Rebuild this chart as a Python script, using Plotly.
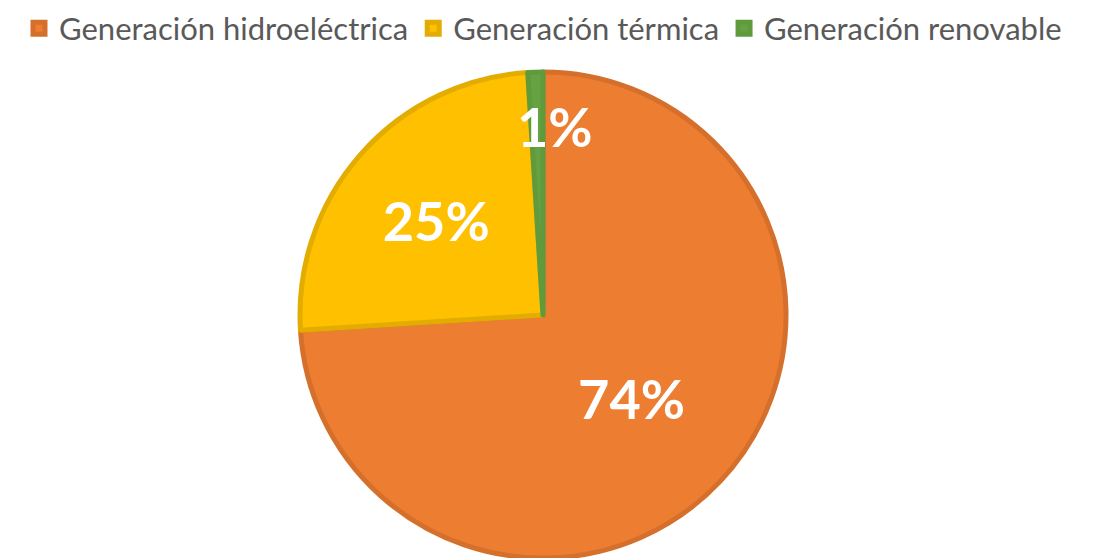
import plotly.graph_objects as go

# Participación por tipo de generación
labels = ["Generación hidroeléctrica", "Generación térmica", "Generación renovable"]
values = [74, 25, 1]
colors = ["#ED7D31", "#FFC000", "#67A242"]
border_colors = ["#D5702C", "#E3AC00", "#5F9A3C"]

total = sum(values)
pct_text = [f"{round(100 * v / total)}%" for v in values]

fig = go.Figure(
    go.Pie(
        labels=labels,
        values=values,
        sort=False,
        direction="clockwise",
        rotation=0,
        marker=dict(colors=colors, line=dict(color=border_colors, width=5)),
        text=pct_text,
        textinfo="text",
        textposition=["inside", "inside", "none"],
        insidetextorientation="horizontal",
        textfont=dict(family="Lato", size=54, color="white", weight="bold"),
        hoverinfo="label+percent",
    )
)

# etiqueta de la porción pequeña, como en el original
fig.add_annotation(
    x=0.511, y=0.887, xref="paper", yref="paper",
    xanchor="center", yanchor="middle",
    text=pct_text[2], showarrow=False,
    font=dict(family="Lato", size=54, color="white", weight="bold"),
)

fig.update_layout(
    width=1094,
    height=558,
    margin=dict(l=0, r=24, t=64, b=8, autoexpand=False),
    paper_bgcolor="white",
    plot_bgcolor="white",
    showlegend=True,
    legend=dict(
        orientation="h",
        x=0.5,
        xanchor="center",
        y=1.145,
        yanchor="top",
        font=dict(family="Lato", size=31, color="#595959"),
        tracegroupgap=0,
    ),
    uniformtext=dict(minsize=10, mode="show"),
)

fig.write_html("out.html")
